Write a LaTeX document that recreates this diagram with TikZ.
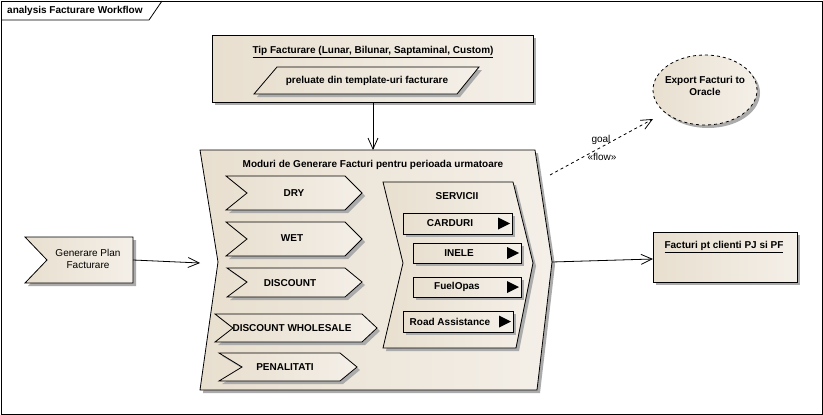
\documentclass[tikz,border=0pt]{standalone}
\usepackage{fontspec}
\setmainfont{Liberation Sans}
\usetikzlibrary{arrows.meta}
\definecolor{begL}{HTML}{E8DFCF}
\definecolor{begR}{HTML}{F4EFE8}
\newcommand\ezshape[1]{\fill[shd,shift={(3,3)}] #1; \path[shp] #1;}
\tikzset{
 shp/.style={draw=black,line width=0.8pt,left color=begL,right color=begR},
 shd/.style={fill=black!33,draw=none},
 lbl/.style={font=\fontsize{10}{12}\selectfont\bfseries, inner sep=0pt},
 reg/.style={font=\fontsize{10}{12}\selectfont, inner sep=0pt, align=center},
 con/.style={line width=0.8pt, -{Straight Barb[length=11pt,width=10pt]}},
}
\begin{document}
\begin{tikzpicture}[x=1pt,y=-1pt]
\useasboundingbox (0,0) rectangle (823,415);
\fill[white] (0,0) rectangle (823,415);
% frame
\draw[line width=1pt] (1,1) rectangle (822,414);
\draw[line width=0.8pt] (1,20) -- (149,20) -- (162,1);
\node[lbl,anchor=west] (frametitle) at (7,11) {analysis Facturare Workflow};

% Tip Facturare box
\ezshape{(212,35) rectangle (533,102)}
\node[lbl] (tiptitle) at (373,52) {\underline{Tip Facturare (Lunar, Bilunar, Saptaminal, Custom)}};
\ezshape{(254,94) -- (277,67) -- (479,67) -- (457,94) -- cycle}
\node[lbl] (preluate) at (367,81) {preluate din template-uri facturare};
\coordinate (tipB) at (373,102);
\coordinate (modT) at (373,150);

% Moduri chevron
\ezshape{(200,150) -- (535,150) -- (552,262) -- (537,390) -- (200,390) -- (218,262) -- cycle}
\node[lbl] (modtitle) at (373,165) {Moduri de Generare Facturi pentru perioada urmatoare};
\coordinate (modL) at (200,263);
\coordinate (modR) at (552,262);

% left chevrons
\ezshape{(226,176) -- (345,176) -- (362,193) -- (345,210) -- (226,210) -- (247,193) -- cycle}
\node[lbl] (dry) at (294,193) {DRY};
\ezshape{(226,222) -- (345,222) -- (362,239) -- (345,256) -- (226,256) -- (247,239) -- cycle}
\node[lbl] (wet) at (292,238) {WET};
\ezshape{(227,268) -- (345,268) -- (362,282) -- (345,297) -- (227,297) -- (247,282) -- cycle}
\node[lbl] (disc) at (290,283) {DISCOUNT};
\ezshape{(215,314) -- (362,314) -- (377,328) -- (362,342) -- (215,342) -- (233,328) -- cycle}
\node[lbl] (discw) at (292,328) {DISCOUNT WHOLESALE};
\ezshape{(219,353) -- (340,353) -- (357,367) -- (340,381) -- (219,381) -- (242,367) -- cycle}
\node[lbl] (pen) at (285,367) {PENALITATI};

% SERVICII chevron
\ezshape{(383,182) -- (513,182) -- (533,263) -- (516,348) -- (383,348) -- (403,263) -- cycle}
\node[lbl] (serv) at (457,196) {SERVICII};

\ezshape{(403,213) rectangle (512,234)}
\fill (498,217.5) -- (510,223.5) -- (498,229.5) -- cycle;
\node[lbl] (card) at (450,223.5) {CARDURI};
\ezshape{(413,243) rectangle (521,263)}
\fill (507,247) -- (519,253) -- (507,259) -- cycle;
\node[lbl] (inele) at (459,253) {INELE};
\ezshape{(413,277) rectangle (521,297)}
\fill (507,281) -- (519,287) -- (507,293) -- cycle;
\node[lbl] (fuel) at (457,287) {FuelOpas};
\ezshape{(403,311) rectangle (513,332)}
\fill (499,315.5) -- (511,321.5) -- (499,327.5) -- cycle;
\node[lbl] (road) at (450,321.5) {Road Assistance};

% Export ellipse
\fill[shd] (708,93) ellipse [x radius=52pt, y radius=35pt];
\path[shp,dashed] (705,90) ellipse [x radius=52pt, y radius=35pt];
\node[lbl,align=center] (export) at (705,85.5) {Export Facturi to\\Oracle};
\coordinate (expL) at (653,119);
\coordinate (flowS) at (550,175);

% Facturi box
\ezshape{(653,232) rectangle (797,282)}
\node[lbl] (fact) at (724,247) {\underline{Facturi pt clienti PJ si PF}};
\coordinate (factL) at (653,259);

% Generare Plan
\ezshape{(25,237) -- (133,237) -- (133,283) -- (25,283) -- (47,260) -- cycle}
\node[reg] (gen) at (88,259) {Generare Plan\\Facturare};
\coordinate (genR) at (133,260);

% connectors
\draw[con] (tipB) -- (modT);
\draw[con] (genR) -- (modL);
\draw[con] (modR) -- (factL);
\draw[con,dashed] (flowS) -- (expL);
\node[reg] (goal) at (601,140) {goal};
\node[reg] (flow) at (602,157) {«flow»};
\end{tikzpicture}
\end{document}
